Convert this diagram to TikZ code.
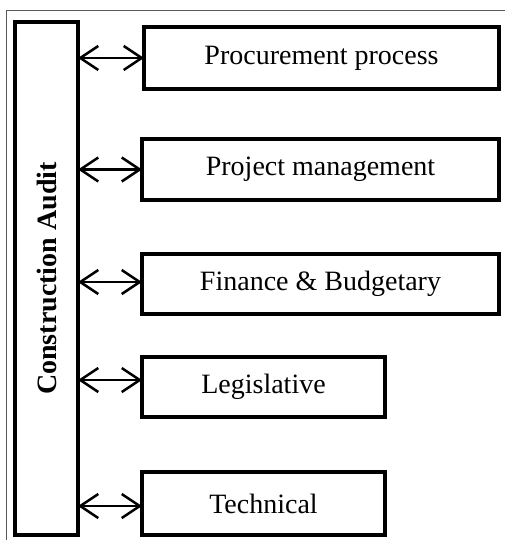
\documentclass[tikz,border=0pt]{standalone}
\usepackage{fontspec}
\setmainfont{Liberation Serif}
\usetikzlibrary{arrows.meta}
\begin{document}
\begin{tikzpicture}[x=1pt,y=-1pt,
  box/.style={draw=black, line width=4.5pt, rectangle, inner sep=0pt, outer sep=0pt,
    font=\fontsize{28}{34}\selectfont},
  arr/.style={line width=2.5pt, {Straight Barb[length=18pt,width=24pt,line width=2.5pt]}-{Straight Barb[length=18pt,width=24pt,line width=2.5pt]}},
  frame/.style={draw=black!65, line width=1pt}]
\useasboundingbox (0,0) rectangle (505,540);
\draw[frame] (6.5,540) -- (6.5,11) -- (505,11);
\node[box, minimum width=63pt, minimum height=513pt] (vbox) at (46.5,278.5) {};
\node[rotate=90, font=\fontsize{28}{34}\selectfont\bfseries] (vlabel) at (vbox.center) {Construction Audit};
\node[box, minimum width=355pt, minimum height=62pt] (proc) at (321.5,58) {Procurement process};
\node[box, minimum width=357pt, minimum height=61pt] (proj) at (320.5,169.5) {Project management};
\node[box, minimum width=357pt, minimum height=60pt] (fin) at (320.5,284) {Finance \& Budgetary};
\node[box, minimum width=243pt, minimum height=60pt] (leg) at (263.5,387) {Legislative};
\node[box, minimum width=243pt, minimum height=63pt] (tech) at (263.5,503.5) {Technical};
\coordinate (a1) at (proc.west);
\coordinate (a2) at (proj.west);
\coordinate (a3) at ([yshift=2pt]fin.west);
\coordinate (a4) at ([yshift=7pt]leg.west);
\coordinate (a5) at ([yshift=-2.5pt]tech.west);
\foreach \a in {a1,a2,a3,a4,a5}{
  \draw[arr] (vbox.east |- \a) -- (\a);
}
\end{tikzpicture}
\end{document}
